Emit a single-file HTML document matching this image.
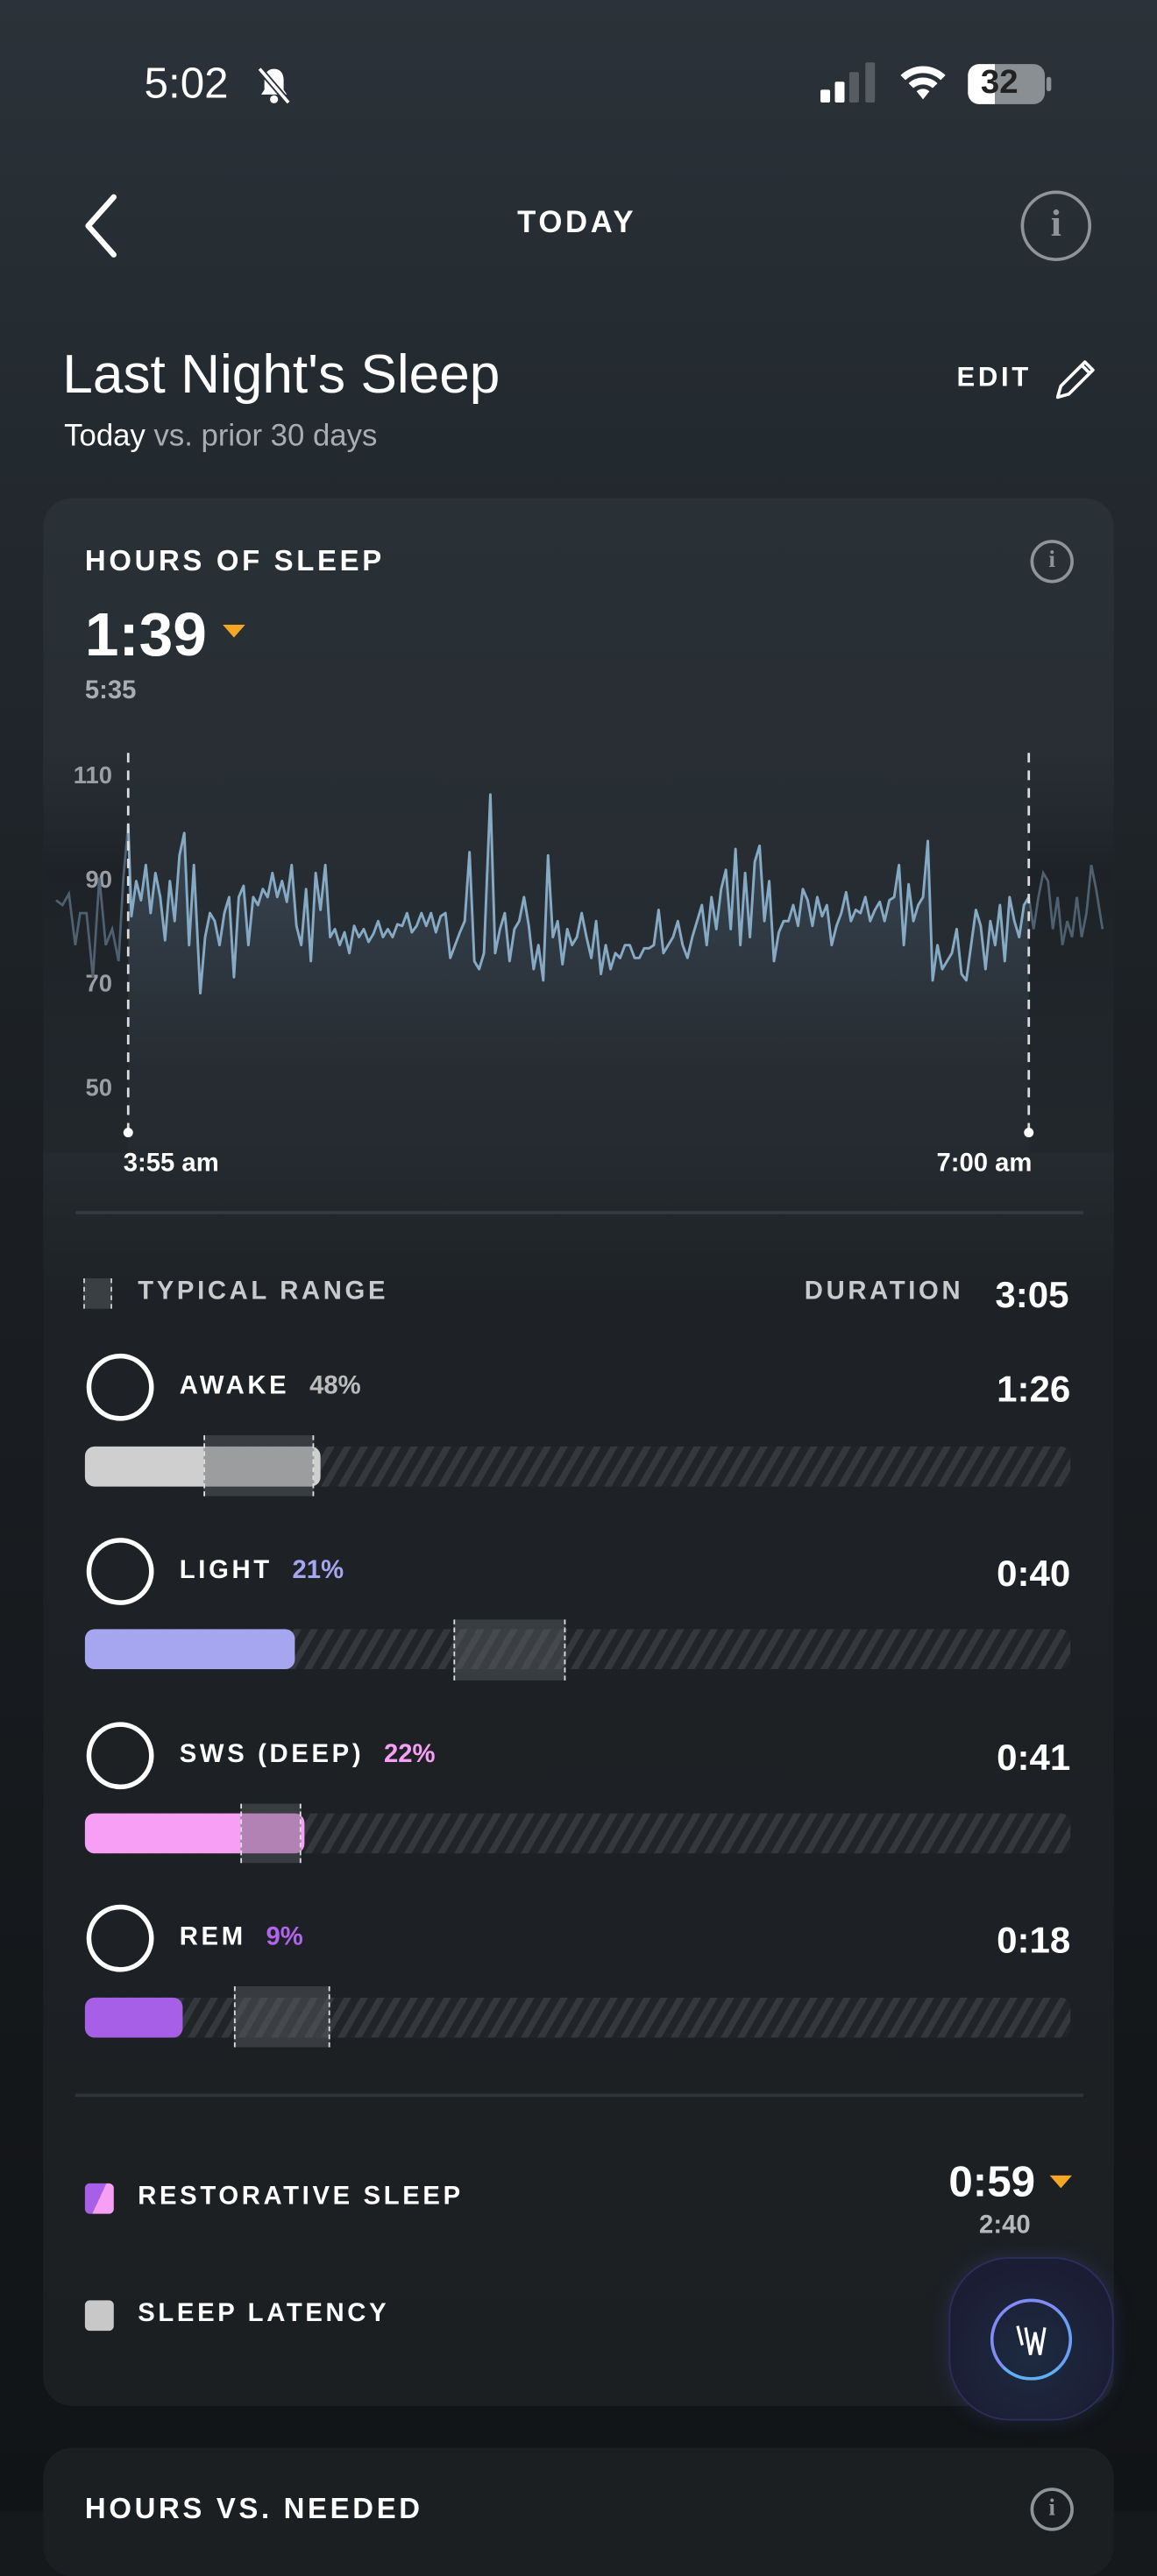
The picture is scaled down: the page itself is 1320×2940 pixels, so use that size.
<!DOCTYPE html>
<html><head><meta charset="utf-8"><style>
*{margin:0;padding:0;box-sizing:border-box}
html,body{width:1320px;height:2868px;overflow:hidden;background:#15191c}
#w{position:absolute;left:0;top:0;width:722px;height:1568px;transform:scale(1.82825);transform-origin:0 0;
background:linear-gradient(#2b3239 0px,#232a30 250px,#1b1f23 700px,#14171a 1300px,#111416 1568px);font-family:"Liberation Sans",sans-serif;color:#fff}
.a{position:absolute;white-space:nowrap}
.b{font-weight:bold}
.ls{letter-spacing:2px}
.card{position:absolute;left:27px;width:668px;border-radius:18px}
.bar{position:absolute;left:53px;width:615px;height:25px;border-radius:6px;
background:repeating-linear-gradient(120deg,#222528 0 5px,#35383c 5px 9px)}
.fill{position:absolute;left:0;top:0;height:25px;border-radius:6px}
.tr{position:absolute;background:rgba(90,95,100,.45);border-left:1.5px dashed #ddd;border-right:1.5px dashed #ddd}
.circ{position:absolute;width:42px;height:42px;border:3px solid #fff;border-radius:50%}
.lbl{font-size:16px;font-weight:bold;letter-spacing:2px}
.tm{font-size:23px;font-weight:bold;text-align:right;right:54px}
</style></head><body><div id="w">
<div class="a" style="left:90px;top:37px;font-size:27px">5:02</div>
<svg class="a" style="left:158px;top:40px" width="26" height="26" viewBox="0 0 26 26"><path d="M13 3c-4 0-6 3-6 7v6l-2 3h16l-2-3v-6c0-4-2-7-6-7z" fill="#fff"/><circle cx="13" cy="22" r="2.5" fill="#fff"/><line x1="4" y1="3" x2="22" y2="24" stroke="#2a3137" stroke-width="4"/><line x1="4" y1="3" x2="22" y2="24" stroke="#fff" stroke-width="2"/></svg>
<div class="a" style="left:512px;top:56px;width:6px;height:8px;background:#fff;border-radius:1px"></div>
<div class="a" style="left:521px;top:51px;width:6px;height:13px;background:#fff;border-radius:1px"></div>
<div class="a" style="left:530px;top:45px;width:6px;height:19px;background:#555c62;border-radius:1px"></div>
<div class="a" style="left:540px;top:39px;width:6px;height:25px;background:#555c62;border-radius:1px"></div>
<svg class="a" style="left:560px;top:38px" width="32" height="26" viewBox="0 0 32 26"><path d="M2 9a20 20 0 0 1 28 0l-3 3a16 16 0 0 0-22 0z M7 14a13 13 0 0 1 18 0l-3 3a9 9 0 0 0-12 0z M12 19a6 6 0 0 1 8 0l-4 5z" fill="#fff"/></svg>
<div class="a" style="left:604px;top:40px;width:48px;height:25px;border-radius:7px;background:linear-gradient(90deg,#fff 0 35%,#8a8f93 35%)"></div>
<div class="a" style="left:653px;top:48px;width:3px;height:9px;background:#8a8f93;border-radius:2px"></div>
<div class="a b" style="left:612px;top:40px;font-size:21px;color:#222">32</div>
<svg class="a" style="left:50px;top:120px" width="26" height="42"><polyline points="21,3 5,21 21,39" fill="none" stroke="#fff" stroke-width="3.5" stroke-linecap="round" stroke-linejoin="round"/></svg>
<div class="a b" style="left:300px;top:129px;width:120px;text-align:center;font-size:19px;letter-spacing:2px">TODAY</div>
<div class="a" style="left:637px;top:119px;width:44px;height:44px;border:2.5px solid #8e9499;border-radius:50%;color:#8e9499;font:bold 24px 'Liberation Serif',serif;text-align:center;line-height:38px">i</div>
<div class="a" style="left:39px;top:215px;font-size:34px">Last Night's Sleep</div>
<div class="a" style="left:40px;top:262px;font-size:19px">Today <span style="color:#a9adb1">vs. prior 30 days</span></div>
<div class="a b" style="left:597px;top:226px;font-size:17px;letter-spacing:2px">EDIT</div>
<svg class="a" style="left:655px;top:222px" width="30" height="30"><path d="M5 26l2-7L22 4l5 5-15 15z M20 6l5 5" fill="none" stroke="#fff" stroke-width="2" stroke-linejoin="round"/></svg>
<div class="card" style="top:311px;height:1191px;background:linear-gradient(#293036 0,#252b30 400px,#1e2226 500px,#1c1f22 1191px)"></div>
<div class="a b ls" style="left:53px;top:340px;font-size:18px">HOURS OF SLEEP</div>
<div class="a" style="left:643px;top:337px;width:27px;height:27px;border:2px solid #8e9499;border-radius:50%;color:#8e9499;font:bold 15px 'Liberation Serif',serif;text-align:center;line-height:23px">i</div>
<div class="a b" style="left:53px;top:376px;font-size:38px">1:39</div>
<svg class="a" style="left:139px;top:390px" width="14" height="10"><polygon points="0,0 14,0 7,8" fill="#f5a623"/></svg>
<div class="a b" style="left:53px;top:423px;font-size:16px;color:#a9adb1">5:35</div>
<svg class="a" style="left:0;top:460px" width="722" height="280" viewBox="0 460 722 280">
<defs><linearGradient id="g" x1="0" y1="0" x2="0" y2="1"><stop offset="0" stop-color="#3a4956"/><stop offset=".5" stop-color="#2e3740"/><stop offset="1" stop-color="#252a30" stop-opacity="0"/></linearGradient>
<linearGradient id="side" x1="0" y1="0" x2="0" y2="1"><stop offset="0" stop-color="#1b2024" stop-opacity="0"/><stop offset=".3" stop-color="#171b1f"/><stop offset="1" stop-color="#1b1f23" stop-opacity=".5"/></linearGradient></defs>
<rect x="27" y="470" width="53" height="250" fill="url(#side)" opacity=".6"/>
<rect x="642" y="470" width="53" height="250" fill="url(#side)" opacity=".6"/>
<text x="70" y="489" fill="#9a9ea2" font-size="15" font-weight="bold" text-anchor="end" font-family="Liberation Sans">110</text>
<text x="70" y="554" fill="#9a9ea2" font-size="15" font-weight="bold" text-anchor="end" font-family="Liberation Sans">90</text>
<text x="70" y="619" fill="#9a9ea2" font-size="15" font-weight="bold" text-anchor="end" font-family="Liberation Sans">70</text>
<text x="70" y="684" fill="#9a9ea2" font-size="15" font-weight="bold" text-anchor="end" font-family="Liberation Sans">50</text>
<polygon fill="url(#g)" points="80,705 80,515 82,572 85,550 88,562 91,540 94,570 97,545 100,560 103,587 106,550 109,575 112,534 115,520 118,590 121,540 125,620 128,585 131,570 134,575 137,590 140,570 143,560 146,610 149,560 152,553 155,590 158,560 161,565 164,555 167,560 170,545 173,560 176,550 179,563 182,540 185,578 188,590 191,555 194,600 197,545 200,568 203,540 206,585 209,580 212,590 215,582 218,595 221,578 224,585 227,580 230,588 233,583 236,575 239,585 242,580 245,585 248,577 251,578 254,570 257,582 260,578 263,570 266,578 269,570 272,582 275,572 278,570 281,598 284,590 287,582 290,575 293,532 296,600 299,605 302,595 306,496 309,595 312,580 315,570 318,600 321,580 324,575 327,560 330,578 333,605 336,590 339,612 342,534 345,585 348,575 351,602 354,580 357,590 360,585 363,570 366,585 369,598 372,575 375,608 378,590 381,605 384,595 387,598 390,590 393,590 396,598 399,598 402,592 405,592 408,590 411,568 414,595 417,590 420,585 423,575 426,590 429,598 432,585 435,575 438,565 441,590 444,560 447,580 450,555 453,543 456,580 459,530 462,590 465,545 468,585 471,538 474,528 477,575 480,550 483,600 486,582 489,575 492,575 495,565 498,578 501,555 504,562 507,578 510,560 513,572 516,565 519,590 522,578 525,570 528,557 531,575 534,568 537,570 540,560 543,575 546,568 549,563 552,575 555,562 558,560 561,540 564,590 567,552 570,575 573,565 576,560 579,525 582,612 585,590 588,605 591,600 594,595 597,580 600,608 603,612 606,590 609,568 612,578 615,605 618,575 621,590 624,565 627,600 630,560 633,575 636,585 639,565 642,560 642,705"/>
<polyline fill="none" stroke="#4f6170" stroke-width="1.5" points="35,562 39,565 43,558 47,590 50,570 54,570 58,610 62,548 66,590 70,580 74,600 77,548 80,515"/>
<polyline fill="none" stroke="#4f6170" stroke-width="1.5" points="642,560 645,580 648,560 651,545 654,550 657,580 660,560 663,590 666,575 669,585 672,560 675,585 678,570 681,540 684,555 688,580"/>
<polyline fill="none" stroke="#86aac4" stroke-width="1.6" stroke-linejoin="round" points="80,515 82,572 85,550 88,562 91,540 94,570 97,545 100,560 103,587 106,550 109,575 112,534 115,520 118,590 121,540 125,620 128,585 131,570 134,575 137,590 140,570 143,560 146,610 149,560 152,553 155,590 158,560 161,565 164,555 167,560 170,545 173,560 176,550 179,563 182,540 185,578 188,590 191,555 194,600 197,545 200,568 203,540 206,585 209,580 212,590 215,582 218,595 221,578 224,585 227,580 230,588 233,583 236,575 239,585 242,580 245,585 248,577 251,578 254,570 257,582 260,578 263,570 266,578 269,570 272,582 275,572 278,570 281,598 284,590 287,582 290,575 293,532 296,600 299,605 302,595 306,496 309,595 312,580 315,570 318,600 321,580 324,575 327,560 330,578 333,605 336,590 339,612 342,534 345,585 348,575 351,602 354,580 357,590 360,585 363,570 366,585 369,598 372,575 375,608 378,590 381,605 384,595 387,598 390,590 393,590 396,598 399,598 402,592 405,592 408,590 411,568 414,595 417,590 420,585 423,575 426,590 429,598 432,585 435,575 438,565 441,590 444,560 447,580 450,555 453,543 456,580 459,530 462,590 465,545 468,585 471,538 474,528 477,575 480,550 483,600 486,582 489,575 492,575 495,565 498,578 501,555 504,562 507,578 510,560 513,572 516,565 519,590 522,578 525,570 528,557 531,575 534,568 537,570 540,560 543,575 546,568 549,563 552,575 555,562 558,560 561,540 564,590 567,552 570,575 573,565 576,560 579,525 582,612 585,590 588,605 591,600 594,595 597,580 600,608 603,612 606,590 609,568 612,578 615,605 618,575 621,590 624,565 627,600 630,560 633,575 636,585 639,565 642,560"/>
<line x1="80" y1="470" x2="80" y2="705" stroke="#ddd" stroke-width="1.5" stroke-dasharray="6,5"/>
<line x1="642" y1="470" x2="642" y2="705" stroke="#ddd" stroke-width="1.5" stroke-dasharray="6,5"/>
<circle cx="80" cy="707" r="3" fill="#fff"/><circle cx="642" cy="707" r="3" fill="#fff"/>
<text x="77" y="731" fill="#fff" font-size="16" font-weight="bold" font-family="Liberation Sans">3:55 am</text>
<text x="644" y="731" fill="#fff" font-size="16" font-weight="bold" text-anchor="end" font-family="Liberation Sans">7:00 am</text>
</svg>
<div class="a" style="left:47px;top:756px;width:629px;height:2px;background:#343a3f"></div>
<div class="a" style="left:52px;top:798px;width:18px;height:19px;background:#3a3f44;border-left:1.5px dashed #ccc;border-right:1.5px dashed #ccc"></div>
<div class="a lbl" style="left:86px;top:798px;color:#c8cacc">TYPICAL RANGE</div>
<div class="a lbl" style="left:502px;top:798px;color:#c8cacc">DURATION</div>
<div class="a b" style="left:621px;top:795px;font-size:23px">3:05</div>
<div class="circ" style="left:54px;top:845px"></div>
<div class="a lbl" style="left:112px;top:857px">AWAKE <span style="color:#bcbcbc;margin-left:6px;letter-spacing:0">48%</span></div>
<div class="a tm" style="top:854px">1:26</div>
<div class="bar" style="top:903px"><div class="fill" style="width:147px;background:#cfcfcf"></div></div>
<div class="tr" style="left:127px;top:896px;width:69px;height:38px"></div>
<div class="circ" style="left:54px;top:960px"></div>
<div class="a lbl" style="left:112px;top:972px">LIGHT <span style="color:#a5a5f0;margin-left:6px;letter-spacing:0">21%</span></div>
<div class="a tm" style="top:969px">0:40</div>
<div class="bar" style="top:1017px"><div class="fill" style="width:131px;background:#a5a5f0"></div></div>
<div class="tr" style="left:283px;top:1011px;width:70px;height:38px"></div>
<div class="circ" style="left:54px;top:1075px"></div>
<div class="a lbl" style="left:112px;top:1087px">SWS (DEEP) <span style="color:#f79ef5;margin-left:6px;letter-spacing:0">22%</span></div>
<div class="a tm" style="top:1084px">0:41</div>
<div class="bar" style="top:1132px"><div class="fill" style="width:137px;background:#f79ef5"></div></div>
<div class="tr" style="left:150px;top:1126px;width:38px;height:37px"></div>
<div class="circ" style="left:54px;top:1189px"></div>
<div class="a lbl" style="left:112px;top:1201px">REM <span style="color:#b264ec;margin-left:6px;letter-spacing:0">9%</span></div>
<div class="a tm" style="top:1198px">0:18</div>
<div class="bar" style="top:1247px"><div class="fill" style="width:61px;background:#a65fe6"></div></div>
<div class="tr" style="left:146px;top:1240px;width:60px;height:38px"></div>
<div class="a" style="left:47px;top:1307px;width:629px;height:2px;background:#2f3438"></div>
<div class="a" style="left:53px;top:1363px;width:18px;height:19px;border-radius:3px;background:linear-gradient(115deg,#a65fe6 0 50%,#f79ef5 50%)"></div>
<div class="a lbl" style="left:86px;top:1363px">RESTORATIVE SLEEP</div>
<div class="a b" style="left:592px;top:1347px;font-size:27px">0:59</div>
<svg class="a" style="left:655px;top:1358px" width="14" height="10"><polygon points="0,0 14,0 7,8" fill="#f5a623"/></svg>
<div class="a b" style="left:611px;top:1381px;font-size:16px;color:#b6b9bc">2:40</div>
<div class="a" style="left:53px;top:1436px;width:18px;height:19px;border-radius:3px;background:#c8c8c8"></div>
<div class="a lbl" style="left:86px;top:1436px">SLEEP LATENCY</div>
<div class="a" style="left:592px;top:1409px;width:103px;height:102px;border-radius:38px;background:radial-gradient(circle at 50% 60%,#1d2b40,#1b1d35 70%);border:1px solid #2c2f5a;box-shadow:0 0 12px rgba(60,80,160,.3)"></div>
<div class="a" style="left:618px;top:1435px;width:51px;height:51px;border-radius:50%;border:2.5px solid #7f8cf5;border-bottom-color:#5fb0f2;border-right-color:#6aa0f4"></div>
<svg class="a" style="left:630px;top:1448px" width="26" height="26"><path d="M5 4L8 16M10 5L13 22L16 8L19 22L22 5" fill="none" stroke="#fff" stroke-width="1.8"/></svg>
<div class="card" style="top:1528px;height:80px;background:#1c1f22"></div>
<div class="a b ls" style="left:53px;top:1556px;font-size:18px">HOURS VS. NEEDED</div>
<div class="a" style="left:643px;top:1553px;width:27px;height:27px;border:2px solid #8e9499;border-radius:50%;color:#8e9499;font:bold 15px 'Liberation Serif',serif;text-align:center;line-height:23px">i</div>
</div></body></html>
